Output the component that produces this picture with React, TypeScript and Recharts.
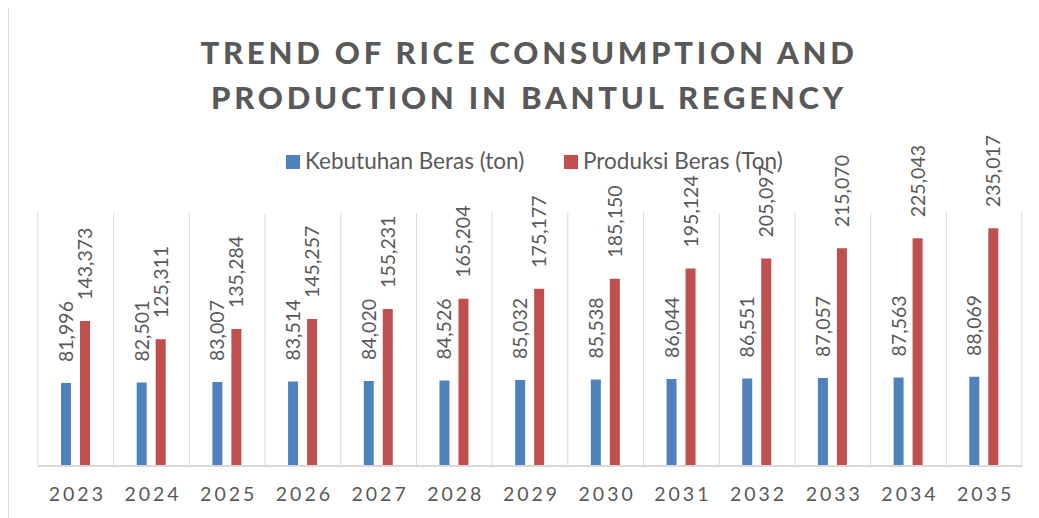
import React from 'react';
import { BarChart, Bar, XAxis, YAxis, CartesianGrid, LabelList } from 'recharts';

const years = ['2023', '2024', '2025', '2026', '2027', '2028', '2029', '2030', '2031', '2032', '2033', '2034', '2035'];
const kebutuhan = [81996, 82501, 83007, 83514, 84020, 84526, 85032, 85538, 86044, 86551, 87057, 87563, 88069];
const produksi = [143373, 125311, 135284, 145257, 155231, 165204, 175177, 185150, 195124, 205097, 215070, 225043, 235017];
const seriesNames = ['Kebutuhan Beras (ton)', 'Produksi Beras (Ton)'];
const titleLines = ['TREND OF RICE CONSUMPTION AND', 'PRODUCTION IN BANTUL REGENCY'];

const data = years.map((y, i) => ({ year: y, kebutuhan: kebutuhan[i], produksi: produksi[i] }));

const FONT = 'Lato, "Open Sans", sans-serif';
const TEXT = '#595959';
const BLUE = '#4f81bd';
const RED = '#c0504d';
const GRID = '#d9d9d9';

const renderLabel = (props: any) => {
  const { x, y, width, value } = props;
  const cx = Number(x) + Number(width) / 2;
  const ty = Number(y) - 21;
  return (
    <text
      x={cx}
      y={ty}
      dy="0.36em"
      transform={`rotate(-90 ${cx} ${ty})`}
      textAnchor="start"
      fontFamily={FONT}
      fontSize={19.5}
      fill={TEXT}
    >
      {Number(value).toLocaleString('en-US')}
    </text>
  );
};

const renderTick = (props: any) => {
  const { x, y, payload } = props;
  return (
    <text
      x={x + 1.5}
      y={y + 27}
      textAnchor="middle"
      fontFamily={FONT}
      fontSize={19.5}
      letterSpacing={3}
      fill={TEXT}
    >
      {payload.value}
    </text>
  );
};

export default function App() {
  return (
    <div
      style={{
        position: 'relative',
        width: 1030,
        height: 510,
        marginTop: -1,
        borderTop: `1px solid ${GRID}`,
        borderLeft: `1px solid ${GRID}`,
        background: '#fff',
        overflow: 'hidden',
      }}
    >
      <BarChart
        width={1030}
        height={510}
        data={data}
        margin={{ top: 205, right: 17, bottom: 22, left: 29 }}
        barSize={10}
        barGap={9}
      >
        <CartesianGrid
          horizontal={false}
          stroke={GRID}
          verticalCoordinatesGenerator={({ offset }: any) =>
            Array.from({ length: years.length + 1 }, (_, i) => offset.left + (offset.width * i) / years.length)
          }
        />
        <XAxis
          dataKey="year"
          height={30}
          tickLine={false}
          axisLine={{ stroke: GRID, strokeWidth: 2 }}
          tick={renderTick}
          interval={0}
        />
        <YAxis hide domain={[0, 250000]} />
        <Bar dataKey="kebutuhan" name={seriesNames[0]} fill={BLUE} isAnimationActive={false}>
          <LabelList dataKey="kebutuhan" content={renderLabel} />
        </Bar>
        <Bar dataKey="produksi" name={seriesNames[1]} fill={RED} isAnimationActive={false}>
          <LabelList dataKey="produksi" content={renderLabel} />
        </Bar>
      </BarChart>
      <svg
        width={1030}
        height={510}
        style={{ position: 'absolute', left: 0, top: 0, pointerEvents: 'none' }}
      >
        {titleLines.map((t, i) => (
          <text
            key={t}
            x={520}
            y={56 + i * 45.3}
            textAnchor="middle"
            fontFamily={FONT}
            fontWeight={900}
            fontSize={31}
            letterSpacing={3.8}
            fill={TEXT}
          >
            {t}
          </text>
        ))}
        <rect x={277} y={147} width={14} height={14} fill={BLUE} />
        <text x={296} y={161} fontFamily={FONT} fontSize={22.5} fill={TEXT}>
          {seriesNames[0]}
        </text>
        <rect x={555} y={147} width={14} height={14} fill={RED} />
        <text x={574} y={161} fontFamily={FONT} fontSize={22.5} fill={TEXT}>
          {seriesNames[1]}
        </text>
      </svg>
    </div>
  );
}
